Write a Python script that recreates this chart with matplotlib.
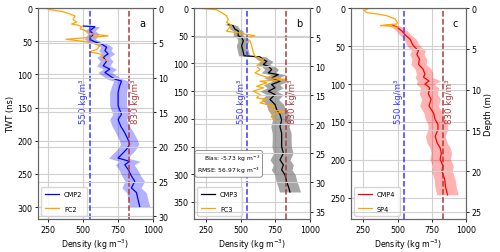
import matplotlib.pyplot as plt
import matplotlib.transforms as mtransforms

# ---- panel a: CMP2 / FC2
twt_cmp2 = [27, 28, 34, 39, 47, 51, 54, 59, 64, 69, 74, 80, 87, 92, 97, 102, 107, 110,
            117, 127, 137, 147, 160, 168, 178, 188, 198, 205, 213, 226, 231, 236, 243,
            253, 261, 271, 278, 288, 299]
rho_cmp2 = [503, 586, 550, 574, 550, 586, 633, 669, 657, 680, 645, 669, 645, 692, 657,
            692, 728, 775, 763, 751, 751, 751, 775, 751, 770, 799, 822, 834, 811, 751,
            834, 799, 822, 846, 870, 846, 882, 893, 905]
err_cmp2 = [35, 35, 38, 40, 40, 40, 42, 42, 44, 45, 45, 46, 47, 48, 50, 52, 55, 55, 58,
            60, 60, 60, 62, 60, 62, 64, 65, 65, 66, 68, 75, 66, 66, 68, 70, 68, 70, 70, 72]
twt_fc2 = [0, 2, 5, 9, 12, 17, 21, 24, 26, 28, 31, 35, 38, 42, 47, 50, 53, 57, 62, 66,
           69, 72, 76, 80]
rho_fc2 = [240, 255, 350, 410, 445, 430, 455, 420, 470, 490, 480, 530, 540, 680, 380,
           500, 575, 620, 600, 545, 620, 645, 635, 680]

# ---- panel b: CMP3 / FC3
twt_cmp3 = [29, 32, 38, 41, 50, 53, 59, 68, 80, 86, 88, 93, 96, 102, 105, 111, 117, 120,
            126, 132, 138, 144, 150, 156, 165, 174, 183, 192, 202, 214, 226, 238, 250,
            262, 274, 283, 292, 301, 314, 322, 332]
rho_cmp3 = [411, 447, 459, 483, 483, 508, 520, 508, 520, 525, 640, 664, 689, 664, 700,
            724, 700, 772, 724, 784, 724, 748, 700, 748, 712, 748, 760, 784, 796, 784,
            796, 796, 796, 808, 784, 808, 796, 820, 832, 844, 856]
err_cmp3 = [30, 32, 34, 35, 36, 36, 38, 38, 40, 40, 42, 44, 45, 46, 48, 50, 52, 55, 55,
            56, 58, 58, 60, 60, 62, 62, 64, 65, 66, 66, 68, 68, 70, 70, 72, 72, 74, 74,
            75, 75, 76]
twt_fc3 = [0, 3, 8, 14, 20, 26, 31, 35, 38, 42, 44, 47, 50, 53, 59, 68, 80, 87, 93, 99,
           105, 111, 117, 123, 126, 129, 132, 135, 141, 144, 150, 156, 162, 165, 171,
           177, 183, 187, 190, 196, 202]
rho_fc3 = [190, 327, 363, 400, 411, 400, 436, 420, 411, 400, 472, 532, 604, 532, 568,
           580, 592, 604, 665, 640, 616, 640, 604, 665, 713, 833, 640, 689, 616, 665,
           592, 640, 616, 689, 640, 737, 713, 810, 761, 720, 749]

# ---- panel c: CMP4 / SP4
twt_cmp4 = [22, 25, 30, 36, 41, 48, 52, 56, 61, 67, 74, 80, 87, 91, 96, 100, 105, 113,
            120, 129, 138, 147, 153, 160, 169, 178, 184, 191, 199, 208, 215, 226, 235, 246]
rho_cmp4 = [458, 495, 531, 560, 592, 610, 629, 653, 641, 660, 653, 685, 700, 690, 730,
            700, 735, 725, 745, 730, 762, 775, 795, 795, 775, 790, 811, 820, 811, 832,
            824, 845, 850, 865]
err_cmp4 = [35, 38, 40, 42, 44, 46, 48, 50, 52, 54, 56, 58, 60, 62, 85, 64, 66, 66, 68,
            68, 70, 70, 72, 72, 72, 74, 74, 75, 75, 76, 76, 76, 78, 78]
twt_sp4 = [0, 3, 6, 8, 10, 14, 19, 21, 22, 23, 24, 26]
rho_sp4 = [295, 255, 275, 360, 420, 480, 500, 495, 420, 375, 470, 500]

GRID = '#d0d0d0'
FS = 5.7


def panel(ax, twt, rho, err, col, band_col, band_alpha, lab, twt_ref, rho_ref, ref_lab,
          ylim, yticks, dlim, dticks, letter, xmin):
  lo = [r - e for r, e in zip(rho, err)]
  hi = [r + e for r, e in zip(rho, err)]
  ax.fill_betweenx(twt, lo, hi, color=band_col, alpha=band_alpha, lw=0)
  ax.plot(rho, twt, color=col, lw=0.9, label=lab)
  ax.plot(rho_ref, twt_ref, color='orange', lw=0.9, label=ref_lab)
  ax.axvline(550, color='#3b3bff', ls='--', lw=1.1)
  ax.axvline(830, color='#b03a3a', ls='--', lw=1.1)
  tr = mtransforms.blended_transform_factory(ax.transData, ax.transAxes)
  ax.text(540, 0.56, '550 kg/m³', transform=tr, rotation=90, ha='right', va='center',
          color='#3b3bff', fontsize=6.2)
  ax.text(845, 0.56, '830 kg/m³', transform=tr, rotation=90, ha='left', va='center',
          color='#b03a3a', fontsize=6.2)
  ax.text(0.93, 0.955, letter, transform=ax.transAxes, ha='right', va='top', fontsize=7)
  ax.set_xlim(xmin, 1000)
  ax.set_xticks([250, 500, 750, 1000])
  ax.set_ylim(*ylim)
  ax.set_yticks(yticks)
  ax.grid(True, color=GRID, lw=0.8)
  ax.set_axisbelow(True)
  ax.set_xlabel('Density (kg m$^{-3}$)', fontsize=FS, labelpad=2)
  ax.tick_params(labelsize=FS, length=2.5, width=0.6, pad=1.5)
  ax.legend(loc='lower left', fontsize=4.8, labelspacing=1.3, handlelength=2.0,
            handletextpad=0.8, borderpad=0.6, framealpha=0.8, edgecolor='#cccccc')
  for s in ax.spines.values():
    s.set_color('0.4'); s.set_linewidth(0.8)
  ax2 = ax.twinx()
  ax2.set_ylim(*dlim)
  ax2.set_yticks(dticks)
  ax2.grid(True, axis='y', color=GRID, lw=0.8)
  ax2.tick_params(labelsize=FS, length=2.5, width=0.6, pad=1.5)
  for s in ax2.spines.values():
    s.set_color('0.4'); s.set_linewidth(0.8)
  return ax2


fig = plt.figure(figsize=(5, 2.53), dpi=100)
ax_a = fig.add_axes([0.076, 0.130, 0.230, 0.834])
ax_b = fig.add_axes([0.388, 0.130, 0.232, 0.834])
ax_c = fig.add_axes([0.702, 0.130, 0.230, 0.834])

panel(ax_a, twt_cmp2, rho_cmp2, err_cmp2, 'blue', 'blue', 0.3, 'CMP2', twt_fc2, rho_fc2,
      'FC2', (318, 0), range(0, 301, 50), (30.4, 0), range(0, 31, 5), 'a', 180)
panel(ax_b, twt_cmp3, rho_cmp3, err_cmp3, 'black', 'gray', 0.7, 'CMP3', twt_fc3, rho_fc3,
      'FC3', (381, 0), range(0, 351, 50), (36.3, 0), range(0, 36, 5), 'b', 165)
ax2c = panel(ax_c, twt_cmp4, rho_cmp4, err_cmp4, 'red', 'red', 0.3, 'CMP4', twt_sp4,
             rho_sp4, 'SP4', (278, 0), range(0, 251, 50), (25.9, 0), range(0, 26, 5),
             'c', 160)

ax_a.set_ylabel('TWT (ns)', fontsize=6, labelpad=2)
ax2c.set_ylabel('Depth (m)', fontsize=6, labelpad=2)

ax_b.text(0.57, 0.262, 'Bias: -5.73 kg m$^{-3}$\nRMSE: 56.97 kg m$^{-3}$',
          transform=ax_b.transAxes, ha='right', va='center', fontsize=4.3,
          multialignment='right',
          bbox=dict(boxstyle='round,pad=0.4', fc='white', ec='0.5', lw=0.6))

plt.savefig('out.png', dpi=100)
